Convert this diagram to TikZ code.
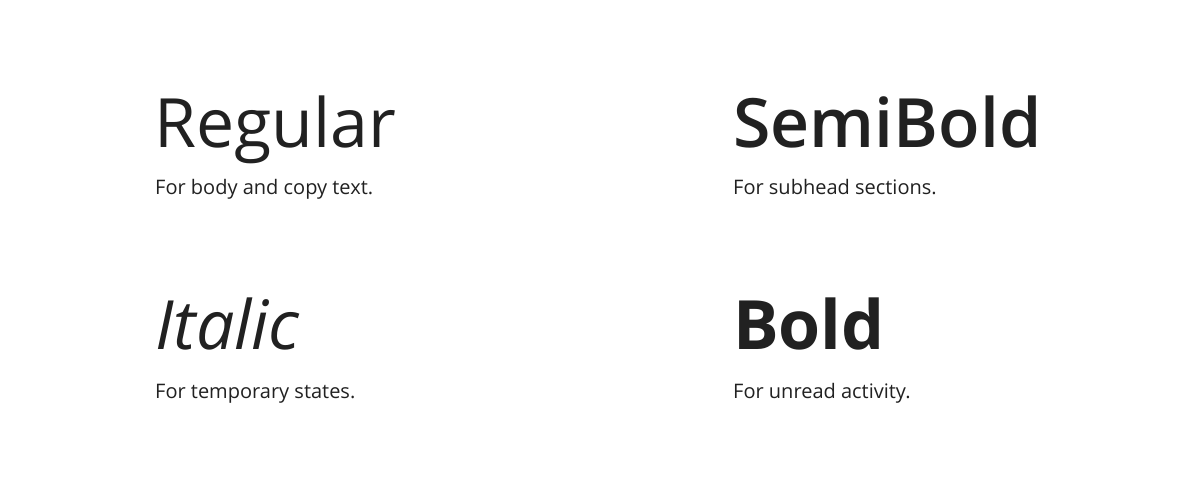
\documentclass[tikz,border=0pt]{standalone}
\usepackage{fontspec}
\setmainfont{Open Sans}
\newfontfamily\semiboldfont{Open Sans Semibold}
\definecolor{inkgray}{HTML}{212121}
\tikzset{
  headline/.style={anchor=base west, inner sep=0pt, text=inkgray, font=\fontsize{68}{82}\selectfont},
  caption/.style={anchor=base west, inner sep=0pt, text=inkgray, font=\fontsize{20}{24}\selectfont},
}

\begin{document}
\begin{tikzpicture}[x=1pt, y=-1pt]
    \useasboundingbox[fill=white] (0,0) rectangle (1200,493);

    \node[headline] (regular) at (154,147) {Regular};
    \node[caption] (regulartxt) at (155,194) {For body and copy text.};
    \node[headline, font=\fontsize{68}{82}\semiboldfont] (semibold) at (733,147) {SemiBold};
    \node[caption] (semiboldtxt) at (733,194) {For subhead sections.};
    \node[headline, font=\fontsize{68}{82}\selectfont\itshape] (italic) at (155,349) {Italic};
    \node[caption] (italictxt) at (155,398) {For temporary states.};
    \node[headline, font=\fontsize{68}{82}\selectfont\bfseries] (bold) at (733,349) {Bold};
    \node[caption] (boldtxt) at (733,398) {For unread activity.};
\end{tikzpicture}
\end{document}
